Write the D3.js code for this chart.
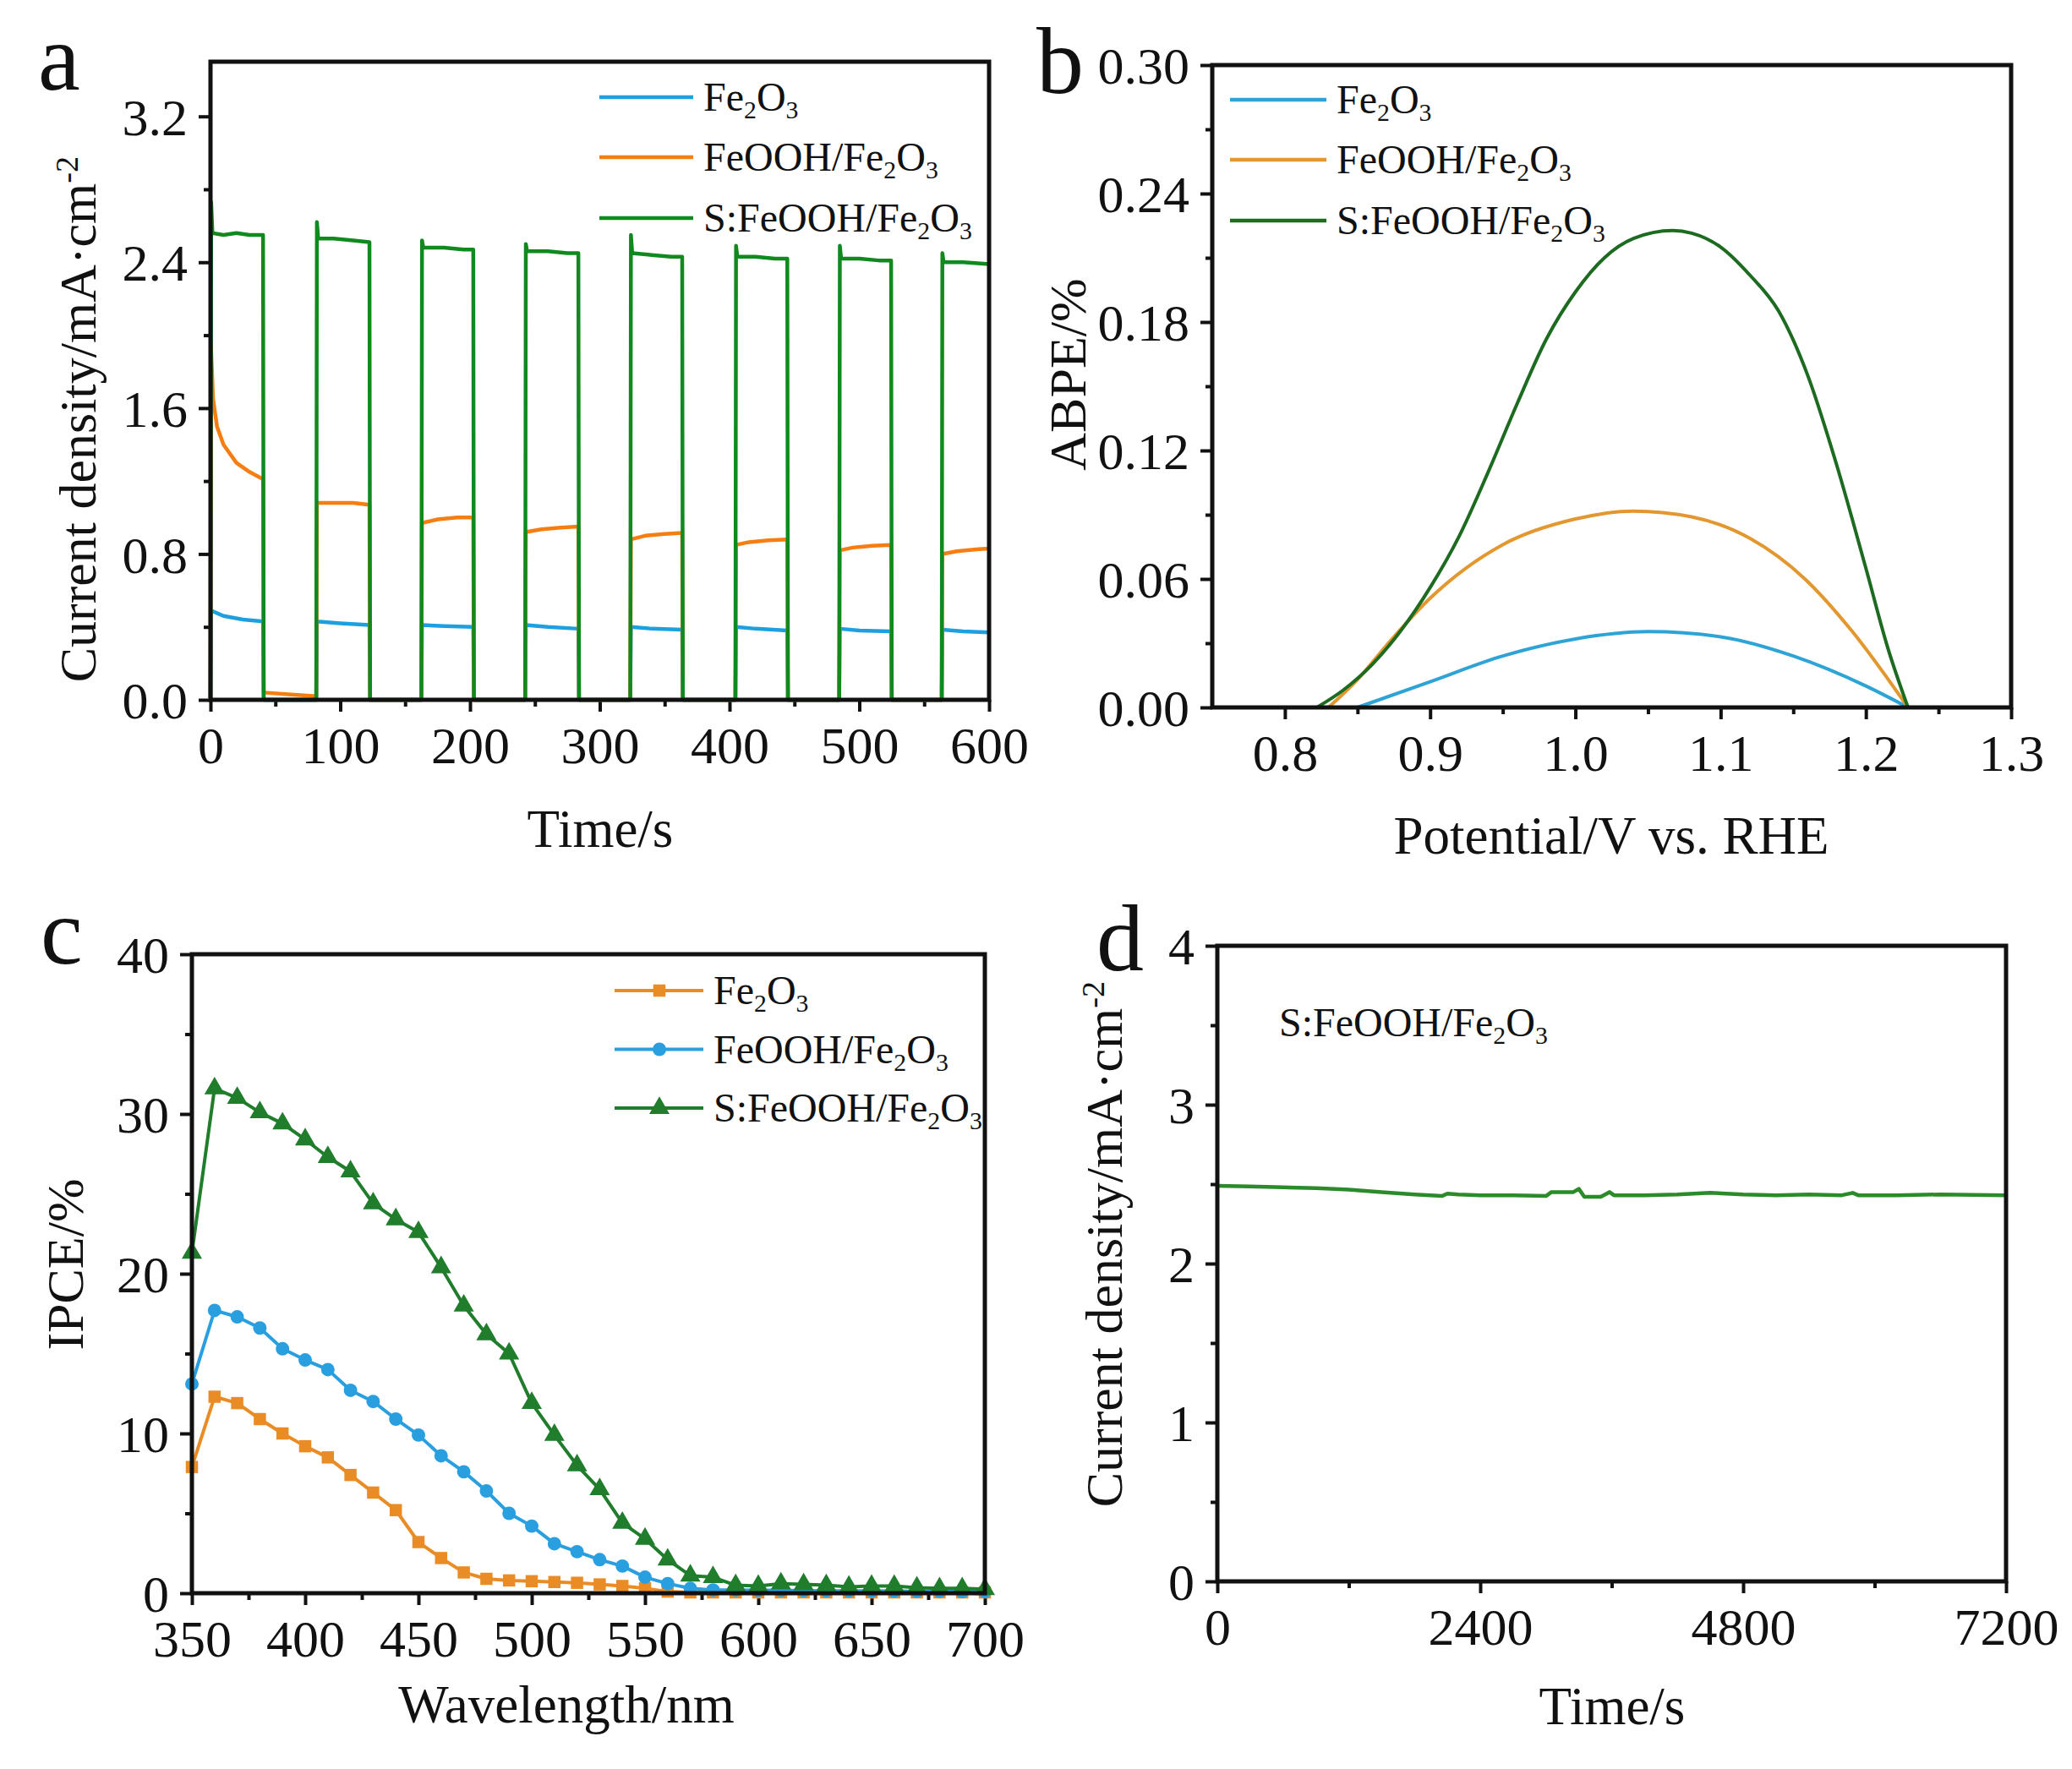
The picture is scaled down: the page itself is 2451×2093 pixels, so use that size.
<!DOCTYPE html>
<html>
<head>
<meta charset="utf-8">
<script src="https://cdnjs.cloudflare.com/ajax/libs/d3/7.8.5/d3.min.js"></script>
<style>
  body { margin: 0; background: #fff; }
  text { font-family: "Liberation Serif", "Times New Roman", serif; fill: #111; }
</style>
</head>
<body>
<div id="chart"></div>
<script>

// ---- panel a : chopped-light transient photocurrent (t / s, j / mA cm-2)
var chopFe2O3 = [[0,0],[0.3,0.49],[10,0.46],[25,0.44],[40.5,0.43],[41,0],[81.5,0],[82,0.43],[100,0.42],[122.5,0.41],[123,0],
    [162.5,0],[163,0.41],[180,0.405],[202.5,0.40],[203,0],[242.5,0],[243,0.41],[260,0.40],[283.5,0.39],[284,0],
    [323.5,0],[324,0.40],[340,0.39],[363.5,0.385],[364,0],[404.5,0],[405,0.40],[420,0.39],[444.5,0.38],[445,0],
    [484.5,0],[485,0.39],[500,0.38],[524.5,0.375],[525,0],[563.5,0],[564,0.385],[580,0.375],[600,0.37]];
var chopFeOOH = [[0,0],[0.3,1.95],[2,1.65],[5,1.5],[10,1.4],[20,1.3],[30,1.25],[40.5,1.21],[41,0.04],[60,0.03],[81.5,0.02],
    [82,1.08],[95,1.08],[110,1.08],[122.5,1.07],[123,0],[162.5,0],[163,0.97],[175,0.99],[190,1.0],[202.5,1.0],[203,0],
    [242.5,0],[243,0.92],[255,0.935],[270,0.945],[283.5,0.95],[284,0],[323.5,0],[324,0.88],[335,0.9],[350,0.91],[363.5,0.915],[364,0],
    [404.5,0],[405,0.85],[415,0.865],[430,0.875],[444.5,0.88],[445,0],[484.5,0],[485,0.82],[495,0.835],[510,0.845],[524.5,0.85],[525,0],
    [563.5,0],[564,0.8],[575,0.815],[590,0.825],[600,0.83]];
var chopSFeOOH = [[0,0],[0.5,2.73],[1.5,2.56],[10,2.55],[20,2.56],[30,2.55],[40.5,2.55],[41,0],[81.5,0],
    [82,2.62],[83,2.53],[95,2.53],[110,2.52],[122.5,2.51],[123,0],[162.5,0],[163,2.52],[164,2.48],[180,2.48],[195,2.47],[202.5,2.47],[203,0],
    [242.5,0],[243,2.50],[244,2.46],[260,2.46],[275,2.45],[283.5,2.45],[284,0],[323.5,0],[324,2.55],[325,2.45],[340,2.44],[355,2.43],[363.5,2.43],[364,0],
    [404.5,0],[405,2.49],[406,2.43],[420,2.43],[435,2.42],[444.5,2.42],[445,0],[484.5,0],[485,2.49],[486,2.42],[500,2.42],[515,2.41],[524.5,2.41],[525,0],
    [563.5,0],[564,2.45],[565,2.40],[580,2.40],[600,2.39]];

// ---- panel b : ABPE (V vs RHE, %)
var abpeFe2O3 = [[0.85,0],[0.9,0.012],[0.95,0.024],[1.0,0.032],[1.05,0.0354],[1.1,0.033],[1.15,0.024],[1.2,0.01],[1.229,0]];
var abpeFeOOH = [[0.83,0],[0.85,0.013],[0.87,0.029],[0.9,0.051],[0.95,0.076],[1.0,0.088],[1.04,0.0917],[1.08,0.089],[1.12,0.079],[1.158,0.06],[1.19,0.036],[1.229,0]];
var abpeSFeOOH = [[0.822,0],[0.84,0.008],[0.86,0.02],[0.88,0.036],[0.9,0.056],[0.92,0.08],[0.94,0.11],[0.96,0.142],[0.98,0.172],
    [1.0,0.194],[1.02,0.21],[1.04,0.219],[1.067,0.2227],[1.08,0.2215],[1.1,0.215],[1.12,0.202],[1.14,0.185],[1.16,0.155],
    [1.18,0.113],[1.2,0.065],[1.215,0.028],[1.229,0]];

// ---- panel c : IPCE (nm, %)
var wavelengths = [350,360,370,380,390,400,410,420,430,440,450,460,470,480,490,500,510,520,530,540,550,560,570,580,590,600,610,620,630,640,650,660,670,680,690,700];
var ipceFe2O3 = [7.9,12.3,11.9,10.9,10.0,9.2,8.5,7.4,6.3,5.2,3.2,2.2,1.3,0.9,0.8,0.75,0.7,0.65,0.55,0.45,0.3,0.1,0.05,0.05,0.05,0.05,0.05,0.05,0.05,0.05,0.05,0.05,0.05,0.05,0.05,0.05];
var ipceFeOOH = [13.1,17.7,17.3,16.6,15.3,14.6,14.0,12.7,12.0,10.9,9.9,8.6,7.6,6.4,5.0,4.2,3.1,2.6,2.1,1.7,1.0,0.6,0.3,0.2,0.2,0.18,0.18,0.16,0.15,0.15,0.14,0.13,0.12,0.12,0.1,0.1];
var ipceSFeOOH = [21.3,31.6,31.0,30.1,29.4,28.4,27.3,26.4,24.4,23.4,22.6,20.4,18.0,16.2,15.0,11.9,9.9,8.0,6.5,4.4,3.4,2.1,1.1,1.0,0.5,0.45,0.6,0.55,0.5,0.4,0.45,0.45,0.35,0.3,0.3,0.25];

// ---- panel d : stability (s, mA cm-2)
var stability = [[0,2.49],[300,2.485],[600,2.48],[900,2.475],[1200,2.465],[1500,2.45],[1800,2.435],[2050,2.425],[2100,2.44],[2200,2.435],
    [2400,2.43],[2700,2.43],[3000,2.425],[3050,2.45],[3250,2.45],[3300,2.47],[3350,2.42],[3500,2.42],[3580,2.45],[3620,2.43],
    [3900,2.43],[4200,2.435],[4500,2.445],[4800,2.435],[5100,2.43],[5400,2.435],[5700,2.43],[5800,2.445],[5850,2.43],
    [6200,2.43],[6600,2.435],[7200,2.43]];

// tick values
var ticksA = { x: [0,100,200,300,400,500,600], xm: [50,150,250,350,450,550], y: [0,0.8,1.6,2.4,3.2], ym: [0.4,1.2,2.0,2.8] };
var ticksB = { x: [0.8,0.9,1.0,1.1,1.2,1.3], xm: [0.85,0.95,1.05,1.15,1.25], y: [0,0.06,0.12,0.18,0.24,0.30], ym: [0.03,0.09,0.15,0.21,0.27] };
var ticksC = { x: [350,400,450,500,550,600,650,700], xm: [375,425,475,525,575,625,675], y: [0,10,20,30,40], ym: [5,15,25,35] };
var ticksD = { x: [0,2400,4800,7200], xm: [1200,3600,6000], y: [0,1,2,3,4], ym: [0.5,1.5,2.5,3.5] };

var svg = d3.select("#chart").append("svg")
    .attr("width", 2451)
    .attr("height", 2093)
    .style("background", "#fff");

// chemical formula text with sub/superscripts
function formula(sel, parts, size) {
    sel.style("font-size", size + "px");
    parts.forEach(function(p) {
        var t = sel.append("tspan").text(p[0]);
        if (p[1] === "sub") t.style("font-size", (size * 0.62) + "px").attr("baseline-shift", "-30%");
        if (p[1] === "sup") t.style("font-size", (size * 0.62) + "px").attr("baseline-shift", "55%");
    });
}
var FE2O3 = [["Fe"],["2","sub"],["O"],["3","sub"]];
var FEOOH = [["FeOOH/Fe"],["2","sub"],["O"],["3","sub"]];
var SFEOOH = [["S:FeOOH/Fe"],["2","sub"],["O"],["3","sub"]];
var CURRENT = [["Current density/mA·cm"],["-2","sup"]];

/*
 * One framed panel with outward major/minor ticks on left and bottom
 */
function Panel(box, xDomain, yDomain, ticks, fx, fy) {
    var p = this;
    p.g = svg.append("g").attr("transform", "translate(" + box.left + "," + box.top + ")");
    p.w = box.right - box.left;
    p.h = box.bottom - box.top;
    p.x = d3.scaleLinear().domain(xDomain).range([0, p.w]);
    p.y = d3.scaleLinear().domain(yDomain).range([p.h, 0]);

    var xa = p.g.append("g").attr("transform", "translate(0," + p.h + ")")
        .call(d3.axisBottom(p.x).tickValues(ticks.x).tickSize(14).tickFormat(fx));
    p.g.append("g").attr("transform", "translate(0," + p.h + ")")
        .call(d3.axisBottom(p.x).tickValues(ticks.xm).tickSize(8).tickFormat(""));
    var ya = p.g.append("g")
        .call(d3.axisLeft(p.y).tickValues(ticks.y).tickSize(14).tickFormat(fy));
    p.g.append("g")
        .call(d3.axisLeft(p.y).tickValues(ticks.ym).tickSize(8).tickFormat(""));

    p.g.selectAll(".domain").remove();
    p.g.selectAll(".tick line").attr("stroke", "#111").attr("stroke-width", 4);
    xa.selectAll("text").attr("y", 75).attr("dy", null)
        .style("font-size", "62px").style("font-family", "Liberation Serif").attr("fill", "#111");
    ya.selectAll("text").attr("x", -27).attr("dy", "0.35em")
        .style("font-size", "62px").style("font-family", "Liberation Serif").attr("fill", "#111");

    p.plot = p.g.append("g");
    p.g.append("rect")
        .attr("width", p.w).attr("height", p.h)
        .attr("fill", "none").attr("stroke", "#111").attr("stroke-width", 5);
}

Panel.prototype.line = function(data, color, width, curve) {
    var p = this;
    var line = d3.line()
        .x(function(d) { return p.x(d[0]); })
        .y(function(d) { return p.y(d[1]); })
        .curve(curve || d3.curveLinear);
    p.plot.append("path").datum(data)
        .attr("d", line)
        .attr("fill", "none")
        .attr("stroke", color)
        .attr("stroke-width", width)
        .attr("stroke-linejoin", "round");
};

function panelLetter(txt, x, y) {
    svg.append("text").attr("x", x).attr("y", y).text(txt).style("font-size", "112px");
}
function xTitle(txt, x, y) {
    svg.append("text").attr("x", x).attr("y", y).attr("text-anchor", "middle").text(txt).style("font-size", "63px");
}
function yTitle(parts, x, y) {
    var t = svg.append("text").attr("text-anchor", "middle")
        .attr("transform", "translate(" + x + "," + y + ") rotate(-90)");
    formula(t, parts, 62);
}
function legendLine(x1, x2, y, color, width, parts) {
    svg.append("line").attr("x1", x1).attr("x2", x2).attr("y1", y).attr("y2", y)
        .attr("stroke", color).attr("stroke-width", width);
    formula(svg.append("text").attr("x", x2 + 12).attr("y", y + 16), parts, 48);
}

// ---------------- panel a
var fmt1 = d3.format(".1f");
var pa = new Panel({ left: 249, right: 1170, top: 73, bottom: 828 }, [0, 600], [0, 3.5], ticksA, d3.format("d"), fmt1);
pa.line(chopFe2O3, "#1e9fe0", 4.5);
pa.line(chopFeOOH, "#f57e12", 4.5);
pa.line(chopSFeOOH, "#108a1e", 4.5);
legendLine(709, 820, 115, "#1e9fe0", 4.5, FE2O3);
legendLine(709, 820, 186, "#f57e12", 4.5, FEOOH);
legendLine(709, 820, 258, "#108a1e", 4.5, SFEOOH);
panelLetter("a", 45, 106);
xTitle("Time/s", 710, 1002);
yTitle(CURRENT, 113, 496);

// ---------------- panel b
var pb = new Panel({ left: 1434, right: 2379, top: 77, bottom: 837 }, [0.75, 1.3], [0, 0.30], ticksB, fmt1, d3.format(".2f"));
pb.line(abpeFe2O3, "#2ea3d6", 4, d3.curveMonotoneX);
pb.line(abpeFeOOH, "#e2972f", 4, d3.curveMonotoneX);
pb.line(abpeSFeOOH, "#1c6b20", 4, d3.curveMonotoneX);
legendLine(1455, 1569, 118, "#2ea3d6", 4.5, FE2O3);
legendLine(1455, 1569, 189, "#e2972f", 4.5, FEOOH);
legendLine(1455, 1569, 261, "#1c6b20", 4.5, SFEOOH);
panelLetter("b", 1226, 110);
xTitle("Potential/V vs. RHE", 1906, 1010);
yTitle([["ABPE/%"]], 1284, 443);

// ---------------- panel c
var pc = new Panel({ left: 227, right: 1165, top: 1129, bottom: 1885 }, [350, 700], [0, 40], ticksC, d3.format("d"), d3.format("d"));
var ipceSeries = [
    { values: ipceFe2O3, color: "#ea8c25", shape: d3.symbolSquare, size: 210, label: FE2O3 },
    { values: ipceFeOOH, color: "#2a9fe0", shape: d3.symbolCircle, size: 200, label: FEOOH },
    { values: ipceSFeOOH, color: "#1f7d2c", shape: d3.symbolTriangle, size: 250, label: SFEOOH }
];
ipceSeries.forEach(function(s, i) {
    var pts = wavelengths.map(function(w, j) { return [w, s.values[j]]; });
    pc.line(pts, s.color, 4);
    pc.plot.selectAll(".m" + i).data(pts).enter().append("path")
        .attr("class", "m" + i)
        .attr("d", d3.symbol().type(s.shape).size(s.size))
        .attr("transform", function(d) { return "translate(" + pc.x(d[0]) + "," + pc.y(d[1]) + ")"; })
        .attr("fill", s.color);
    var ly = 1172 + i * 69.5;
    legendLine(727, 832, ly, s.color, 4, s.label);
    svg.append("path").attr("d", d3.symbol().type(s.shape).size(s.size))
        .attr("transform", "translate(780," + ly + ")").attr("fill", s.color);
});
panelLetter("c", 48, 1140);
xTitle("Wavelength/nm", 670, 2038);
yTitle([["IPCE/%"]], 98, 1496);

// ---------------- panel d
var pd = new Panel({ left: 1440, right: 2373, top: 1119, bottom: 1871 }, [0, 7200], [0, 4], ticksD, d3.format("d"), d3.format("d"));
pd.line(stability, "#2b8b2b", 4.5);
formula(svg.append("text").attr("x", 1513).attr("y", 1226), SFEOOH, 48);
panelLetter("d", 1297, 1148);
xTitle("Time/s", 1907, 2040);
yTitle(CURRENT, 1327, 1472);

</script>
</body>
</html>
